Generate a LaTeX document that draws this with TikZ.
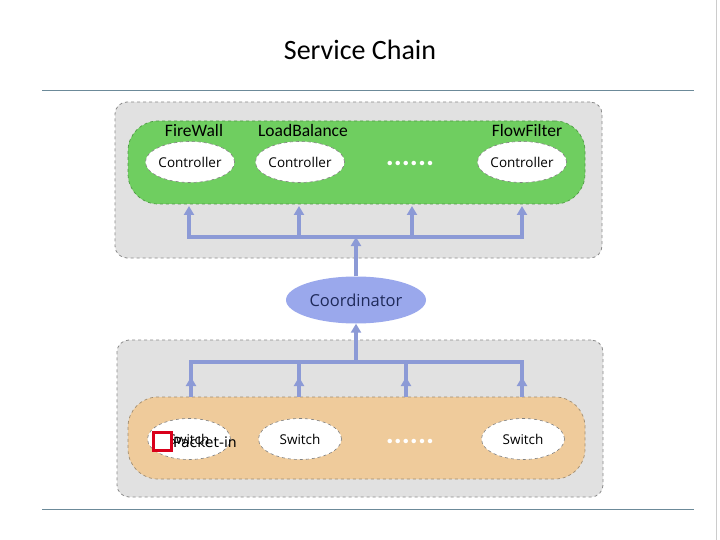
\documentclass[tikz,border=0pt]{standalone}
\usepackage{fontspec}
\setmainfont{Carlito}
\newfontfamily\pktfont{DejaVu Sans}
\newfontfamily\uifont{Open Sans}
\usetikzlibrary{arrows.meta,shapes.geometric}
\definecolor{grayfill}{HTML}{E1E1E1}
\definecolor{grayedge}{HTML}{8A8A8A}
\definecolor{greenfill}{HTML}{6FCE60}
\definecolor{greenedge}{HTML}{4E9A44}
\definecolor{orangefill}{HTML}{EFCB9B}
\definecolor{orangeedge}{HTML}{A08C70}
\definecolor{arrowblue}{HTML}{8C9AD6}
\definecolor{coordfill}{HTML}{9AA8EC}
\definecolor{coordtext}{HTML}{1F2A5A}
\definecolor{ruleline}{HTML}{6C8A99}
\definecolor{pktred}{HTML}{D9001B}
\tikzset{
  panel/.style={draw=grayedge, dashed, line width=0.8pt, fill=grayfill, rounded corners=12pt},
  greenpanel/.style={draw=greenedge, dashed, line width=0.7pt, fill=greenfill, rounded corners=30pt},
  orangepanel/.style={draw=orangeedge, dashed, line width=0.7pt, fill=orangefill, rounded corners=30pt},
  unit/.style={ellipse, draw=gray, dashed, line width=0.6pt, fill=white, minimum width=83pt, minimum height=41pt, inner sep=0pt, font=\uifont\fontsize{13.5}{16}\selectfont},
  lbl/.style={font=\fontsize{17.5}{20}\selectfont},
  dotsl/.style={anchor=base, text=white, inner sep=0pt, font=\fontsize{30}{30}\selectfont\bfseries},
  link/.style={draw=arrowblue, line width=3.5pt},
  uparrow/.style={link, -{Triangle[width=10pt,length=9pt]}},
}
\begin{document}
\begin{tikzpicture}[x=1pt,y=-1pt]
\useasboundingbox[fill=white] (0,0) rectangle (720,540);
% title and rules
\node[font=\fontsize{28}{32}\selectfont] (title) at (360,50) {Service Chain};
\draw[ruleline, line width=1pt] (42,91) -- (694,91);
\draw[ruleline, line width=1pt] (42,509) -- (694,509);
\draw[gray!40, line width=1pt] (716,0) -- (716,540);
% top panel
\node[panel, minimum width=487pt, minimum height=156pt] (top) at (358.5,180) {};
\node[greenpanel, minimum width=457pt, minimum height=83pt] (green) at (356.5,162.5) {};
\node[lbl] (lfw) at (194,130) {FireWall};
\node[lbl] (llb) at (303,130) {LoadBalance};
\node[lbl] (lff) at (527,130) {FlowFilter};
\node[unit] (c1) at (190,162) {Controller};
\node[unit] (c2) at (300,162) {Controller};
\node[unit] (c3) at (522,162) {Controller};
\node[dotsl] (cdots) at (410,166) {......};
% coordinator
\node[ellipse, fill=coordfill, minimum width=140pt, minimum height=47pt, inner sep=0pt, text=coordtext, font=\uifont\fontsize{16.5}{20}\selectfont] (co) at (356,300) {Coordinator};
% bottom panel
\node[panel, minimum width=486pt, minimum height=157pt] (bot) at (360,418.5) {};
\node[orangepanel, minimum width=457pt, minimum height=82pt] (orange) at (356.5,438) {};
\node[unit] (s1) at (189,439) {Switch};
\node[unit] (s2) at (300,439) {Switch};
\node[unit] (s3) at (523,439) {Switch};
\node[dotsl] (sdots) at (410,443) {......};
% top connectors
\coordinate (tb1) at (189,237);
\coordinate (tb2) at (299,237);
\coordinate (tb3) at (412,237);
\coordinate (tb4) at (522,237);
\coordinate (tbc) at (356,237);
\draw[link] (187.25,237) -- (523.75,237);
\foreach \i/\x in {1/189,2/299,3/412,4/522}{
  \draw[uparrow] (tb\i) -- (\x,206);
}
\draw[uparrow] (co.north) -- (tbc);
% bottom connectors
\coordinate (bb1) at (191,362);
\coordinate (bb2) at (299,362);
\coordinate (bb3) at (406,362);
\coordinate (bb4) at (522,362);
\coordinate (bbc) at (356,362);
\draw[link] (189.25,362) -- (523.75,362);
\foreach \i/\x in {1/191,2/299,3/406,4/522}{
  \draw[uparrow] (\x,397) -- (\x,377);
  \draw[link] (\x,380) -- (bb\i);
}
\draw[uparrow] (bbc) -- (co.south);
% packet-in marker
\node[draw=pktred, line width=3pt, fill=white, minimum size=18pt, inner sep=0pt] (pkt) at (162.5,441) {};
\node[anchor=west, inner sep=0pt, font=\pktfont\fontsize{14}{16}\selectfont] (pktl) at (173,442) {Packet-in};
\end{tikzpicture}
\end{document}
